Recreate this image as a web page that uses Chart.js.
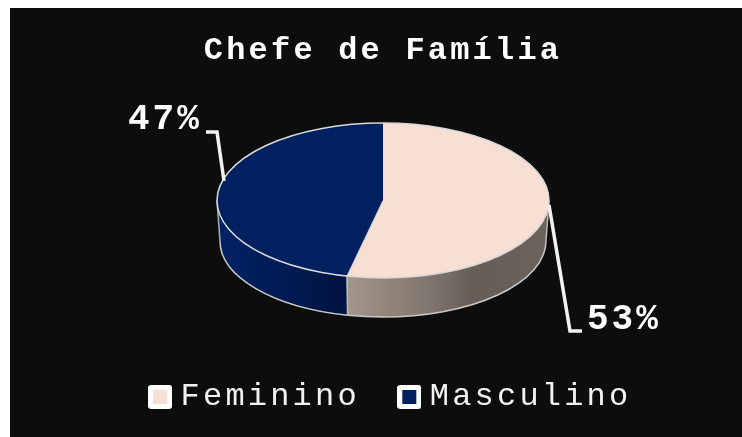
<!DOCTYPE html>
<html>
<head>
<meta charset="utf-8">
<style>
  html, body { margin: 0; height: 100%; background: #fff; overflow: hidden; }
  #box { position: absolute; left: 10px; top: 8px; right: 0; bottom: 0; background: #0d0d0d; }
</style>
<script src="https://cdn.jsdelivr.net/npm/chart.js@4"></script>
</head>
<body>
<div id="box"><canvas id="chart_chefe"></canvas></div>
<script>
var titleText = 'Chefe de Família'
var categories = ['Feminino', 'Masculino']
var values = [53.49, 46.51]
var sliceColors = ['#f8dfd4', '#002060']

// canvas starts at (10,8) in the page, so everything below is page coords minus that
var OX = 10, OY = 8
var top3d = { x: 383 - OX, y: 200.5 - OY, rx: 166, ry: 77.5 }
var bottom3d = { x: 383 - OX, y: 241 - OY, rx: 163, ry: 76 }
var wallStops = [
    [[0, '#a39689'], [0.45, '#7d726b'], [0.62, '#665d56'], [1, '#6b625b']],
    [[0, '#002265'], [0.5, '#001b54'], [1, '#00133f']]
]
var leaders = [
    { pts: [[549, 205], [570, 331], [582, 331]], textX: 587, textY: 320 },
    { pts: [[224, 181], [217, 132], [206, 132]], textX: 128, textY: 120 }
]

function frontRange(arc) {
    var a = Math.max(arc.startAngle, 0)
    var b = Math.min(arc.endAngle, Math.PI)
    return a < b ? [a, b] : null
}

function wallEdge(ctx, a) {
    ctx.beginPath()
    ctx.moveTo(top3d.x + top3d.rx * Math.cos(a), top3d.y + top3d.ry * Math.sin(a))
    ctx.lineTo(bottom3d.x + bottom3d.rx * Math.cos(a), bottom3d.y + bottom3d.ry * Math.sin(a))
    ctx.strokeStyle = 'rgba(225,225,225,0.75)'
    ctx.lineWidth = 1.5
    ctx.stroke()
}

function drawWalls(ctx, arcs) {
    arcs.forEach(function (arc, i) {
        var r = frontRange(arc)
        if (!r) return
        var x0 = top3d.x + top3d.rx * Math.cos(r[1])
        var x1 = top3d.x + top3d.rx * Math.cos(r[0])
        var g = ctx.createLinearGradient(x0, 0, x1, 0)
        wallStops[i].forEach(function (s) { g.addColorStop(s[0], s[1]) })
        ctx.beginPath()
        ctx.ellipse(top3d.x, top3d.y, top3d.rx, top3d.ry, 0, r[0], r[1])
        ctx.ellipse(bottom3d.x, bottom3d.y, bottom3d.rx, bottom3d.ry, 0, r[1], r[0], true)
        ctx.closePath()
        ctx.fillStyle = g
        ctx.fill()
        // edge of the wall
        ctx.beginPath()
        ctx.ellipse(bottom3d.x, bottom3d.y, bottom3d.rx, bottom3d.ry, 0, r[0], r[1])
        ctx.strokeStyle = '#c9c9c9'
        ctx.lineWidth = 1.5
        ctx.stroke()
        wallEdge(ctx, r[0])
        if (r[1] == Math.PI) wallEdge(ctx, r[1])
    })
}

var spacing = {
    id: 'spacing',
    beforeLayout: function (chart) { chart.ctx.letterSpacing = '3.2px' },
    beforeDraw: function (chart) { chart.ctx.letterSpacing = '3.2px' },
    // title and legend sit right of the canvas centre in the original
    afterLayout: function (chart) {
        chart.titleBlock.left += 7
        chart.titleBlock.right += 7
        chart.legend.left += 17.5
        chart.legend.right += 17.5
    }
}

// squashes the library's round pie to the tilted ellipse and puts the wall under it
var tilt = {
    id: 'tilt',
    beforeDatasetDraw: function (chart, args) {
        var arcs = args.meta.data
        var ctx = chart.ctx
        drawWalls(ctx, arcs)
        var R = arcs[0].outerRadius
        ctx.save()
        ctx.translate(top3d.x, top3d.y)
        ctx.scale(top3d.rx / R, top3d.ry / R)
        ctx.translate(-arcs[0].x, -arcs[0].y)
    },
    afterDatasetDraw: function (chart, args) {
        var ctx = chart.ctx
        ctx.restore()
        ctx.save()
        ctx.beginPath()
        ctx.ellipse(top3d.x, top3d.y, top3d.rx, top3d.ry, 0, 0, Math.PI * 2)
        ctx.strokeStyle = '#d9d9d9'
        ctx.lineWidth = 1.5
        ctx.stroke()
        var a = args.meta.data[1].startAngle
        ctx.beginPath()
        ctx.moveTo(top3d.x, top3d.y)
        ctx.lineTo(top3d.x + top3d.rx * Math.cos(a), top3d.y + top3d.ry * Math.sin(a))
        ctx.strokeStyle = 'rgba(235,235,235,0.85)'
        ctx.lineWidth = 1
        ctx.stroke()
        ctx.restore()
    }
}

var outLabels = {
    id: 'outLabels',
    afterDraw: function (chart) {
        var ctx = chart.ctx
        var total = values[0] + values[1]
        ctx.save()
        leaders.forEach(function (l, i) {
            ctx.beginPath()
            l.pts.forEach(function (p, j) {
                if (j == 0) ctx.moveTo(p[0] - OX, p[1] - OY)
                else ctx.lineTo(p[0] - OX, p[1] - OY)
            })
            ctx.strokeStyle = '#f2f2f2'
            ctx.lineWidth = 3.5
            ctx.stroke()
            ctx.font = 'bold 36px "Liberation Mono"'
            ctx.letterSpacing = '3px'
            ctx.fillStyle = '#fff'
            ctx.textBaseline = 'middle'
            ctx.textAlign = 'left'
            ctx.fillText(Math.round(values[i] / total * 100) + '%', l.textX - OX, l.textY - OY)
        })
        ctx.restore()
    }
}

function legendSwatch(color) {
    var c = document.createElement('canvas')
    c.width = 24
    c.height = 24
    var x = c.getContext('2d')
    x.beginPath()
    x.roundRect(0, 0, 24, 24, 3)
    x.fillStyle = '#fff'
    x.fill()
    x.fillStyle = color
    x.fillRect(5, 5, 14, 14)
    return c
}

var chart_chefe = new Chart(document.getElementById('chart_chefe'), {
    type: 'pie',
    data: {
        labels: categories,
        datasets: [{
            data: values,
            backgroundColor: sliceColors,
            borderWidth: 0
        }]
    },
    options: {
        maintainAspectRatio: false,
        animation: false,
        layout: { padding: { bottom: 14 } },
        plugins: {
            tooltip: { enabled: false },
            title: {
                display: true,
                text: titleText,
                color: '#fff',
                font: { family: '"Liberation Mono"', size: 32, weight: 'bold' },
                padding: { top: 24, bottom: 8 }
            },
            legend: {
                position: 'bottom',
                labels: {
                    color: '#f2f2f2',
                    font: { family: '"Liberation Mono"', size: 32 },
                    usePointStyle: true,
                    pointStyleWidth: 9,
                    padding: 45,
                    generateLabels: function () {
                        return categories.map(function (c, i) {
                            return {
                                text: c,
                                fontColor: '#f2f2f2',
                                pointStyle: legendSwatch(sliceColors[i]),
                                lineWidth: 0,
                                index: i
                            }
                        })
                    }
                }
            }
        }
    },
    plugins: [spacing, tilt, outLabels]
})
</script>
</body>
</html>
